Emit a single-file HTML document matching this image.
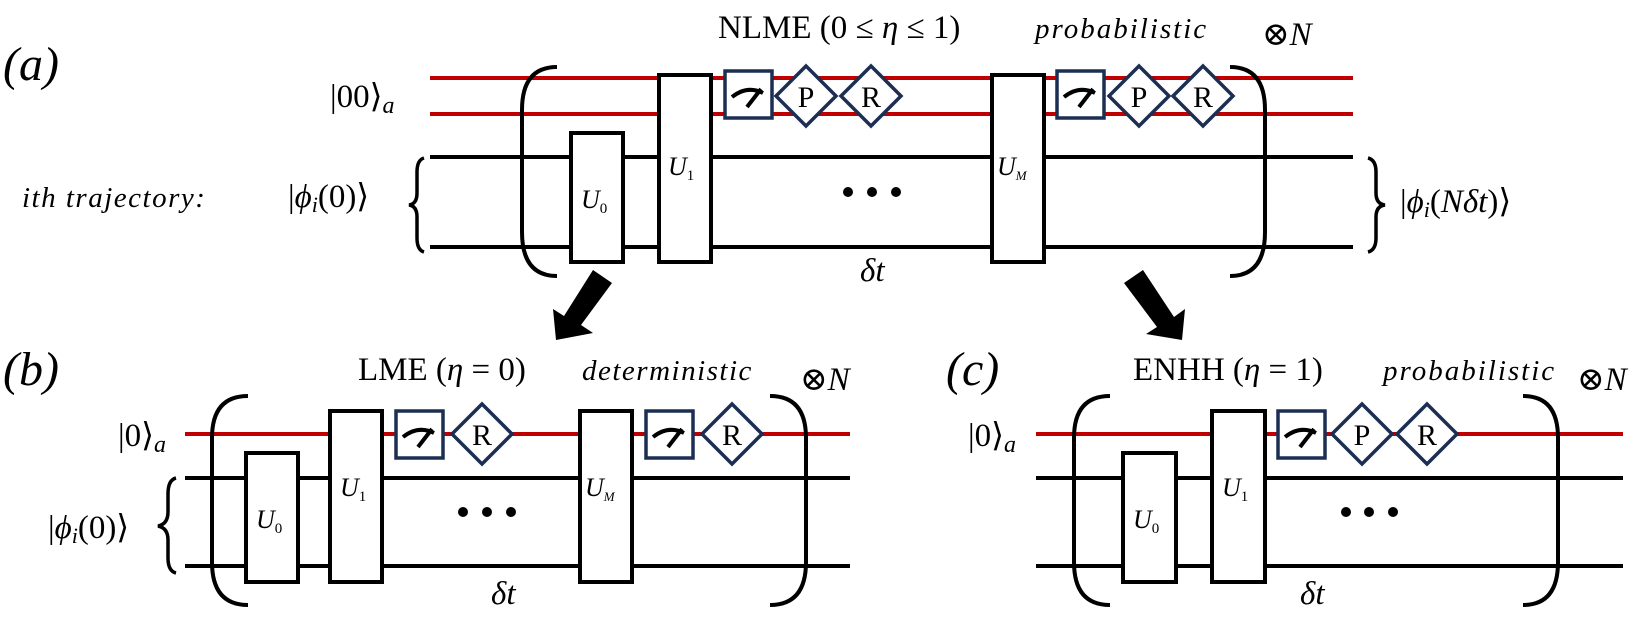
<!DOCTYPE html>
<html><head><meta charset="utf-8"><style>
html,body{margin:0;padding:0;background:#fff;}
svg{display:block;}
text{font-family:"Liberation Serif","DejaVu Serif",serif;}
</style></head><body>
<svg width="1634" height="622" viewBox="0 0 1634 622" xmlns="http://www.w3.org/2000/svg" font-family="Liberation Serif, serif">
<defs>
<g id="meter"><rect x="0" y="0" width="47" height="47" fill="#fff" stroke="#1c2e52" stroke-width="3.5"/>
<path d="M7 26 Q22 14 38 22" fill="none" stroke="#000" stroke-width="4"/><line x1="22" y1="36" x2="36" y2="18" stroke="#000" stroke-width="4"/></g>
</defs>
<g stroke-width="4" fill="none">
<line x1="430" y1="78" x2="1353" y2="78" stroke="#c00000"/>
<line x1="430" y1="114" x2="1353" y2="114" stroke="#c00000"/>
<line x1="430" y1="157" x2="1353" y2="157" stroke="#000"/>
<line x1="430" y1="247" x2="1353" y2="247" stroke="#000"/>
<path d="M557 67 Q522 67 522 110 L522 232 Q522 276 557 276" stroke="#000"/>
<path d="M1230 67 Q1265 67 1265 110 L1265 232 Q1265 276 1230 276" stroke="#000"/>
<line x1="185" y1="434" x2="850" y2="434" stroke="#c00000"/>
<line x1="185" y1="478" x2="850" y2="478" stroke="#000"/>
<line x1="185" y1="566" x2="850" y2="566" stroke="#000"/>
<path d="M248 396 Q212 396 212 438 L212 562 Q212 605 248 605" stroke="#000"/>
<path d="M770 396 Q806 396 806 438 L806 562 Q806 605 770 605" stroke="#000"/>
<line x1="1036" y1="434" x2="1623" y2="434" stroke="#c00000"/>
<line x1="1036" y1="478" x2="1623" y2="478" stroke="#000"/>
<line x1="1036" y1="566" x2="1623" y2="566" stroke="#000"/>
<path d="M1110 396 Q1074 396 1074 438 L1074 562 Q1074 605 1110 605" stroke="#000"/>
<path d="M1523 396 Q1558 396 1558 438 L1558 562 Q1558 605 1523 605" stroke="#000"/>
</g>
<g fill="none" stroke="#000" stroke-width="3.5">
<path d="M424 158 Q417 160 417 172 L417 193 Q417 204 409 205 Q417 206 417 217 L417 238 Q417 250 424 252"/>
<path d="M1368 158 Q1376 160 1376 172 L1376 193 Q1376 204 1385 205 Q1376 206 1376 217 L1376 238 Q1376 250 1368 252"/>
<path d="M176 478 Q168 480 168 494 L168 512 Q168 524 158 526 Q168 528 168 540 L168 558 Q168 571 176 573"/>
</g>
<g fill="#fff" stroke="#000" stroke-width="4">
<rect x="571" y="133" width="52" height="129"/>
<rect x="659" y="75" width="52" height="187"/>
<rect x="992" y="75" width="52" height="187"/>
<rect x="246" y="453" width="52" height="129"/>
<rect x="330" y="411" width="52" height="171"/>
<rect x="580" y="411" width="52" height="171"/>
<rect x="1123" y="453" width="53" height="129"/>
<rect x="1212" y="411" width="53" height="171"/>
</g>
<use href="#meter" x="725" y="71"/>
<use href="#meter" x="1057" y="71"/>
<use href="#meter" x="396" y="411"/>
<use href="#meter" x="646" y="411"/>
<use href="#meter" x="1278" y="411"/>
<g fill="#fff" stroke="#1c2e52" stroke-width="3.5">
<polygon points="776,96 806,66 836,96 806,126"/>
<polygon points="841,96 871,66 901,96 871,126"/>
<polygon points="1109,96 1139,66 1169,96 1139,126"/>
<polygon points="1173,96 1203,66 1233,96 1203,126"/>
<polygon points="452,434 482,404 512,434 482,464"/>
<polygon points="702,434 732,404 762,434 732,464"/>
<polygon points="1332,434 1362,404 1392,434 1362,464"/>
<polygon points="1397,434 1427,404 1457,434 1427,464"/>
</g>
<g font-size="30" text-anchor="middle" fill="#000">
<text x="806" y="107">P</text><text x="871" y="107">R</text>
<text x="1139" y="107">P</text><text x="1203" y="107">R</text>
<text x="482" y="445">R</text><text x="732" y="445">R</text>
<text x="1362" y="445">P</text><text x="1427" y="445">R</text>
</g>
<g font-style="italic" font-size="26" fill="#000">
<text x="581" y="208">U<tspan font-size="15" font-style="normal" dy="5">0</tspan></text>
<text x="668" y="175">U<tspan font-size="15" font-style="normal" dy="5">1</tspan></text>
<text x="997" y="175">U<tspan font-size="13" dy="5">M</tspan></text>
<text x="256" y="528">U<tspan font-size="15" font-style="normal" dy="5">0</tspan></text>
<text x="340" y="496">U<tspan font-size="15" font-style="normal" dy="5">1</tspan></text>
<text x="585" y="496">U<tspan font-size="13" dy="5">M</tspan></text>
<text x="1133" y="528">U<tspan font-size="15" font-style="normal" dy="5">0</tspan></text>
<text x="1222" y="496">U<tspan font-size="15" font-style="normal" dy="5">1</tspan></text>
</g>
<g fill="#000">
<circle cx="848" cy="192" r="5"/><circle cx="872" cy="192" r="5"/><circle cx="896" cy="192" r="5"/>
<circle cx="463" cy="512" r="5"/><circle cx="487" cy="512" r="5"/><circle cx="511" cy="512" r="5"/>
<circle cx="1346" cy="512" r="5"/><circle cx="1369" cy="512" r="5"/><circle cx="1393" cy="512" r="5"/>
<polygon points="593,270 612,283 581,325 593,333 556,340 553,309 564,316"/>
<polygon points="1143,270 1124,283 1157,327 1146,334 1182,340 1185,309 1174,317"/>
</g>
<g fill="#000" font-size="33">
<text x="3" y="80" font-size="48" font-style="italic">(a)</text>
<text x="3" y="385" font-size="48" font-style="italic">(b)</text>
<text x="946" y="385" font-size="48" font-style="italic">(c)</text>
<text x="330" y="107">|00⟩<tspan font-style="italic" font-size="24" dy="6">a</tspan></text>
<text x="22" y="207" font-style="italic" font-size="29" letter-spacing="1.5">ith trajectory:</text>
<text x="288" y="207">|<tspan font-style="italic">ϕ</tspan><tspan font-style="italic" font-size="22" dy="5">i</tspan><tspan dy="-5">(0)⟩</tspan></text>
<text x="1400" y="212">|<tspan font-style="italic">ϕ</tspan><tspan font-style="italic" font-size="22" dy="5">i</tspan><tspan dy="-5">(</tspan><tspan font-style="italic">Nδt</tspan>)⟩</text>
<text x="718" y="38">NLME (0 ≤ <tspan font-style="italic">η</tspan> ≤ 1)</text>
<text x="1035" y="38" font-style="italic" font-size="29" letter-spacing="2">probabilistic</text>
<text x="1262" y="45">⊗<tspan font-style="italic">N</tspan></text>
<text x="860" y="281" font-style="italic">δt</text>
<text x="118" y="446">|0⟩<tspan font-style="italic" font-size="24" dy="6">a</tspan></text>
<text x="48" y="538">|<tspan font-style="italic">ϕ</tspan><tspan font-style="italic" font-size="22" dy="5">i</tspan><tspan dy="-5">(0)⟩</tspan></text>
<text x="358" y="380">LME (<tspan font-style="italic">η</tspan> = 0)</text>
<text x="582" y="380" font-style="italic" font-size="29" letter-spacing="1.5">deterministic</text>
<text x="800" y="390">⊗<tspan font-style="italic">N</tspan></text>
<text x="491" y="604" font-style="italic">δt</text>
<text x="968" y="446">|0⟩<tspan font-style="italic" font-size="24" dy="6">a</tspan></text>
<text x="1133" y="380">ENHH (<tspan font-style="italic">η</tspan> = 1)</text>
<text x="1383" y="380" font-style="italic" font-size="29" letter-spacing="2">probabilistic</text>
<text x="1577" y="390">⊗<tspan font-style="italic">N</tspan></text>
<text x="1300" y="604" font-style="italic">δt</text>
</g>
</svg>
</body></html>
